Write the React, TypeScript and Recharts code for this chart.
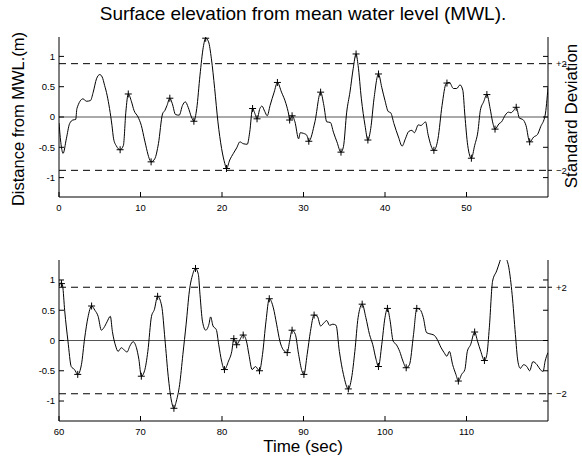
import {
  ComposedChart,
  Line,
  Scatter,
  XAxis,
  YAxis,
  ReferenceLine,
} from 'recharts';

// time (s) and elevation (m), first 60 s
const topTime = [
  0.0, 0.25, 0.5, 0.9, 1.3, 1.7, 2.05, 2.2, 2.95, 3.35, 3.85, 4.2, 4.6, 5.0, 5.3, 5.6, 5.9, 6.2, 6.5, 6.7,
  7.05, 7.5, 7.9, 8.2, 8.5, 8.9, 9.2, 9.7, 10.1, 10.5, 11.15, 11.3, 11.75, 12.2, 12.7, 13.0, 13.25, 13.6, 13.9, 14.3,
  14.75, 15.15, 15.5, 15.85, 16.25, 16.55, 16.9, 17.3, 17.7, 18.0, 18.35, 18.7, 19.1, 19.5, 19.95, 20.35, 20.55, 20.95, 21.4, 21.8,
  22.2, 22.6, 23.1, 23.4, 23.75, 24.0, 24.3, 24.65, 24.9, 25.25, 25.55, 25.9, 26.4, 26.8, 27.3, 27.85, 28.2, 28.3, 28.6, 28.95,
  29.4, 29.6, 30.0, 30.4, 30.65, 31.4, 32.1, 32.5, 32.85, 33.3, 33.67, 34.1, 34.6, 34.9, 35.3, 35.7, 36.1, 36.45, 36.7, 37.1,
  37.55, 37.9, 38.25, 38.65, 39.2, 39.6, 40.0, 40.4, 40.7, 41.1, 41.65, 42.1, 42.5, 42.9, 43.3, 43.6, 44.1, 44.4, 44.7, 44.97,
  45.3, 46.0, 46.5, 47.0, 47.5, 47.9, 48.4, 48.8, 49.2, 49.55, 49.8, 50.15, 50.6, 51.0, 51.4, 51.7, 52.1, 52.5, 52.9, 53.2,
  53.5, 54.0, 54.3, 54.75, 55.15, 55.45, 55.8, 56.1, 56.5, 56.9, 57.3, 57.75, 58.25, 58.7, 59.1, 59.65, 60.0,
];
const topElevation = [
  -0.1, -0.45, -0.6, -0.36, -0.11, -0.05, -0.04, 0.14, 0.3, 0.26, 0.27, 0.41, 0.63, 0.7, 0.66, 0.52, 0.36, 0.14, -0.14, -0.36,
  -0.48, -0.54, -0.47, 0.08, 0.38, 0.25, 0.11, 0.0, -0.14, -0.38, -0.71, -0.74, -0.69, -0.44, 0.05, 0.11, 0.19, 0.31, 0.22, 0.04,
  0.03, 0.19, 0.25, 0.16, 0.0, -0.07, 0.14, 0.69, 1.15, 1.3, 1.24, 0.96, 0.47, -0.08, -0.52, -0.77, -0.85, -0.71, -0.6, -0.51,
  -0.41, -0.44, -0.45, -0.25, 0.14, 0.07, -0.03, 0.14, 0.18, 0.09, 0.02, 0.19, 0.41, 0.57, 0.41, 0.22, 0.03, -0.05, 0.02, -0.08,
  -0.36, -0.26, -0.27, -0.3, -0.4, -0.08, 0.41, 0.19, -0.08, -0.09, -0.25, -0.41, -0.58, -0.49, 0.08, 0.41, 0.8, 1.04, 0.85, 0.3,
  -0.14, -0.38, -0.19, 0.3, 0.71, 0.49, 0.27, 0.09, 0.07, -0.11, -0.33, -0.48, -0.36, -0.24, -0.22, -0.26, -0.13, -0.14, -0.11, -0.08,
  -0.3, -0.55, -0.36, 0.19, 0.55, 0.57, 0.47, 0.47, 0.53, 0.44, 0.03, -0.47, -0.68, -0.47, -0.24, 0.11, 0.25, 0.37, 0.14, -0.08,
  -0.2, -0.11, -0.08, 0.03, 0.08, 0.07, 0.11, 0.16, -0.02, -0.04, -0.14, -0.41, -0.33, -0.29, -0.16, 0.03, 0.49,
];

// second 60 s
const bottomTime = [
  60.0, 60.3, 60.45, 60.7, 61.1, 61.5, 61.9, 62.3, 62.75, 63.15, 63.55, 64.0, 64.4, 64.8, 65.2, 65.5, 65.9, 66.3, 66.55, 66.95,
  67.25, 67.65, 67.95, 68.35, 68.7, 69.1, 69.5, 69.8, 70.1, 70.5, 70.9, 71.35, 71.7, 72.1, 72.6, 73.0, 73.4, 73.8, 74.1, 74.4,
  74.8, 75.2, 75.6, 76.0, 76.4, 76.75, 77.1, 77.3, 77.6, 78.0, 78.4, 78.6, 78.9, 79.3, 79.6, 79.95, 80.3, 80.8, 81.2, 81.45,
  81.8, 82.1, 82.6, 83.0, 83.3, 83.7, 84.1, 84.6, 84.97, 85.4, 85.8, 86.3, 86.7, 87.1, 87.5, 88.0, 88.3, 88.6, 89.0, 89.4,
  89.8, 90.05, 90.45, 90.85, 91.3, 91.7, 92.1, 92.5, 92.85, 93.2, 93.6, 94.0, 94.4, 94.9, 95.5, 95.9, 96.3, 96.7, 97.2, 97.65,
  98.1, 98.5, 98.9, 99.2, 99.6, 100.0, 100.3, 100.6, 101.0, 101.4, 101.8, 102.2, 102.6, 103.0, 103.5, 103.9, 104.3, 104.7, 105.1, 105.5,
  106.0, 106.4, 106.85, 107.25, 107.6, 107.9, 108.3, 108.7, 109.0, 109.4, 109.8, 110.1, 110.5, 111.0, 111.35, 111.75, 112.2, 112.5, 112.8, 113.2,
  113.7, 114.1, 114.5, 114.85, 115.2, 115.6, 116.0, 116.3, 116.6, 117.0, 117.4, 117.75, 118.15, 118.65, 119.05, 119.4, 119.65, 120.0,
];
const bottomElevation = [
  0.9, 0.96, 0.9, 0.49, -0.01, -0.43, -0.48, -0.56, -0.4, 0.04, 0.38, 0.57, 0.5, 0.4, 0.17, 0.21, 0.31, 0.4, 0.15, -0.09,
  -0.18, -0.12, -0.15, -0.19, -0.09, -0.02, -0.12, -0.31, -0.59, -0.5, -0.18, 0.4, 0.51, 0.73, 0.57, 0.02, -0.59, -1.0, -1.12, -1.0,
  -0.73, -0.23, 0.27, 0.82, 1.09, 1.19, 1.09, 0.76, 0.32, 0.17, 0.27, 0.39, 0.24, 0.18, -0.07, -0.34, -0.48, -0.34, -0.18, 0.03,
  -0.07, -0.01, 0.09, -0.01, -0.23, -0.48, -0.43, -0.5, -0.23, 0.32, 0.69, 0.54, 0.27, -0.01, -0.15, -0.2, -0.01, 0.17, 0.1, -0.23,
  -0.5, -0.56, -0.23, 0.15, 0.42, 0.4, 0.24, 0.29, 0.33, 0.25, 0.27, 0.25, -0.18, -0.56, -0.8, -0.62, -0.18, 0.38, 0.6, 0.38,
  0.1, -0.07, -0.31, -0.43, -0.07, 0.38, 0.53, 0.35, -0.01, -0.07, -0.18, -0.34, -0.45, -0.4, 0.1, 0.53, 0.51, 0.38, 0.13, 0.11,
  0.09, 0.02, -0.11, -0.2, -0.26, -0.18, -0.4, -0.56, -0.67, -0.56, -0.48, -0.18, -0.07, 0.14, -0.01, -0.18, -0.33, -0.23, 0.21, 0.98,
  1.15, 1.31, 1.48, 1.37, 1.2, 0.76, 0.1, -0.34, -0.46, -0.4, -0.43, -0.5, -0.35, -0.4, -0.48, -0.51, -0.34, -0.2,
];

// "+" marks at the picked crests / troughs
const topMarkTime = [7.5, 8.5, 11.3, 13.6, 16.55, 18.0, 20.55, 23.75, 24.3, 26.8, 28.3, 28.6, 30.65, 32.1, 34.6, 36.45, 37.9, 39.2, 46.0, 47.6, 50.6, 52.5, 53.5, 56.1, 57.75];
const topMarkValue = [-0.54, 0.38, -0.74, 0.31, -0.07, 1.3, -0.85, 0.14, -0.03, 0.57, -0.05, 0.02, -0.4, 0.41, -0.58, 1.04, -0.38, 0.71, -0.55, 0.56, -0.68, 0.37, -0.2, 0.16, -0.41];
const bottomMarkTime = [60.3, 62.3, 64.0, 70.1, 72.1, 74.1, 76.75, 80.3, 81.45, 81.8, 82.6, 84.6, 85.8, 88.0, 88.6, 90.05, 91.3, 95.5, 97.2, 99.2, 100.3, 102.6, 103.9, 109.0, 111.0, 112.2];
const bottomMarkValue = [0.94, -0.56, 0.57, -0.59, 0.73, -1.12, 1.19, -0.48, 0.03, -0.07, 0.09, -0.5, 0.69, -0.2, 0.17, -0.56, 0.42, -0.8, 0.6, -0.43, 0.53, -0.45, 0.53, -0.67, 0.14, -0.33];

const stdLevel = 0.88; // 2 standard deviations
const yTicks = [-1, -0.5, 0, 0.5, 1];
const rightTicks = [-1, -stdLevel, -0.5, 0, 0.5, stdLevel, 1];
const topXTicks = [0, 10, 20, 30, 40, 50];
const bottomXTicks = [60, 70, 80, 90, 100, 110];

const zip = (t: number[], v: number[]) => t.map((x, i) => ({ t: x, y: v[i] }));

const font = "'Liberation Sans', Arial, Helvetica, sans-serif";
const TICK = 5;
const RIGHT_AXIS_X = 548;

const LeftTick = (props: any) => {
  const { x, y, payload } = props;
  const ax = x + 4;
  return (
    <g>
      <line x1={ax} x2={ax + TICK} y1={y} y2={y} stroke="#000" />
      <text x={x} y={y} dy="0.35em" textAnchor="end" fontSize={9.5} fill="#000">{payload.value}</text>
    </g>
  );
};

const BottomTick = (props: any) => {
  const { x, y, payload } = props;
  const ay = y - 6;
  return (
    <g>
      <line x1={x} x2={x} y1={ay} y2={ay - TICK} stroke="#000" />
      <text x={x} y={ay + 14} textAnchor="middle" fontSize={9.5} fill="#000">{payload.value}</text>
    </g>
  );
};

const TopTick = (props: any) => {
  const { x, y } = props;
  return <line x1={x} x2={x} y1={y} y2={y + TICK} stroke="#000" />;
};

const RightTick = (props: any) => {
  const { y, payload } = props;
  const x = RIGHT_AXIS_X;
  const v = payload.value;
  if (Math.abs(Math.abs(v) - stdLevel) < 1e-6) {
    return (
      <g>
        <line x1={x} x2={x + 4} y1={y} y2={y} stroke="#000" />
        <text x={x + 8} y={y} dy="0.35em" fontSize={9.5} fill="#000">{v > 0 ? '+2' : '\u22122'}</text>
      </g>
    );
  }
  return <line x1={x - TICK} x2={x} y1={y} y2={y} stroke="#000" />;
};

const Plus = (props: any) => {
  const { cx, cy } = props;
  return <path d={`M${cx - 3.5},${cy}H${cx + 3.5}M${cx},${cy - 3.5}V${cy + 3.5}`} stroke="#000" strokeWidth={1} fill="none" />;
};

interface PanelProps {
  series: { t: number; y: number }[];
  marks: { t: number; y: number }[];
  xDomain: [number, number];
  xTicks: number[];
  yLimit: number;
  height: number;
  top: number;
  marginTop: number;
  axisHeight: number;
}

const Panel = ({ series, marks, xDomain, xTicks, yLimit, height, top, marginTop, axisHeight }: PanelProps) => (
  <div style={{ position: 'absolute', left: 0, top }}>
    <ComposedChart width={582} height={height} margin={{ top: marginTop, right: 0, bottom: 0, left: 0 }}>
      <XAxis
        dataKey="t"
        type="number"
        domain={xDomain}
        ticks={xTicks}
        interval={0}
        allowDataOverflow
        height={axisHeight}
        stroke="#000"
        tickSize={0}
        tickMargin={6}
        tick={<BottomTick />}
      />
      <XAxis
        xAxisId="top"
        orientation="top"
        type="number"
        domain={xDomain}
        ticks={xTicks}
        interval={0}
        allowDataOverflow
        height={0}
        stroke="#000"
        tickSize={0}
        tickMargin={0}
        tick={<TopTick />}
      />
      <YAxis
        dataKey="y"
        type="number"
        domain={[-yLimit, yLimit]}
        ticks={yTicks}
        interval={0}
        allowDataOverflow
        width={59}
        stroke="#000"
        tickSize={0}
        tickMargin={4}
        tick={<LeftTick />}
      />
      <YAxis
        yAxisId="right"
        orientation="right"
        type="number"
        domain={[-yLimit, yLimit]}
        ticks={rightTicks}
        interval={0}
        allowDataOverflow
        width={34}
        stroke="#000"
        tickSize={0}
        tickMargin={0}
        tick={<RightTick />}
      />
      <ReferenceLine y={0} stroke="#555" strokeWidth={1} />
      <ReferenceLine y={stdLevel} stroke="#000" strokeDasharray="7 5" />
      <ReferenceLine y={-stdLevel} stroke="#000" strokeDasharray="7 5" />
      <ReferenceLine xAxisId="top" yAxisId="right" y={0} stroke="none" />
      <Line data={series} dataKey="y" type="monotone" stroke="#000" strokeWidth={1} dot={false} isAnimationActive={false} />
      <Scatter data={marks} dataKey="y" shape={<Plus />} isAnimationActive={false} />
    </ComposedChart>
  </div>
);

export default function App() {
  return (
    <div style={{ position: 'absolute', left: 0, top: 0, width: 582, height: 459, background: '#fff', fontFamily: font }}>
      <Panel
        series={zip(topTime, topElevation)}
        marks={zip(topMarkTime, topMarkValue)}
        xDomain={[0, 60]}
        xTicks={topXTicks}
        yLimit={1.32}
        height={225}
        top={0}
        marginTop={37}
        axisHeight={28}
      />
      <Panel
        series={zip(bottomTime, bottomElevation)}
        marks={zip(bottomMarkTime, bottomMarkValue)}
        xDomain={[60, 120]}
        xTicks={bottomXTicks}
        yLimit={1.33}
        height={229}
        top={230}
        marginTop={30}
        axisHeight={38}
      />
      <svg width={582} height={459} style={{ position: 'absolute', left: 0, top: 0, pointerEvents: 'none' }}>
        <text x={303} y={20} textAnchor="middle" fontSize={19} fill="#000">Surface elevation from mean water level (MWL).</text>
        <text transform="translate(24,119) rotate(-90)" textAnchor="middle" fontSize={16.5} fill="#000">Distance from MWL.(m)</text>
        <text transform="translate(577,116) rotate(-90)" textAnchor="middle" fontSize={17} fill="#000">Standard Deviation</text>
        <text x={303} y={452} textAnchor="middle" fontSize={17} fill="#000">Time (sec)</text>
      </svg>
    </div>
  );
}
